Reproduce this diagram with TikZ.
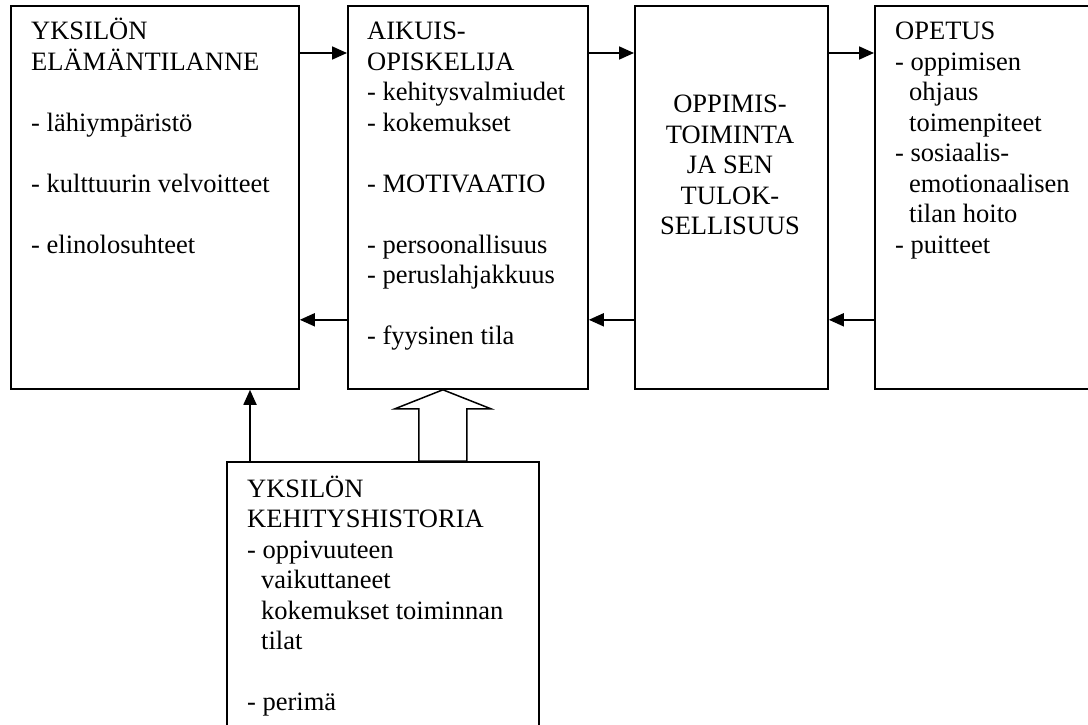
\documentclass[tikz,border=0pt]{standalone}
\usepackage{fontspec}
\setmainfont{Liberation Serif}
\usetikzlibrary{arrows.meta}
\begin{document}
\begin{tikzpicture}[x=1pt,y=-1pt,
  box/.style={draw,line width=1.8pt,rectangle,inner sep=0pt,anchor=north west},
  txt/.style={inner sep=0pt,font=\fontsize{26.5}{30.5}\selectfont},
  conn/.style={line width=1.8pt,-{Triangle[length=15pt,width=13pt]}},
  hollow/.style={draw,line width=1.5pt,fill=white,line join=miter}]
\useasboundingbox (0,0) rectangle (1088,725);
\clip (0,0) rectangle (1088,725);
% boxes
\node[box,minimum width=288pt,minimum height=383pt] (b1) at (10,5) {};
\node[box,minimum width=240pt,minimum height=383pt] (b2) at (347,5) {};
\node[box,minimum width=193pt,minimum height=383pt] (b3) at (634,5) {};
\node[box,minimum width=236pt,minimum height=383pt] (b4) at (874,5) {};
\node[box,minimum width=312pt,minimum height=284pt] (bh) at (226,461) {};
% texts
\node[txt,anchor=base west] (t1) at (31,40) {\begin{tabular}[t]{@{}l@{}}
YKSILÖN\\ ELÄMÄNTILANNE\\ \\ - lähiympäristö\\ \\ - kulttuurin velvoitteet\\ \\ - elinolosuhteet
\end{tabular}};
\node[txt,anchor=base west] (t2) at (367,40) {\begin{tabular}[t]{@{}l@{}}
AIKUIS-\\ OPISKELIJA\\ - kehitysvalmiudet\\ - kokemukset\\ \\ - MOTIVAATIO\\ \\ - persoonallisuus\\ - peruslahjakkuus\\ \\ - fyysinen tila
\end{tabular}};
\node[txt,anchor=base] (t3) at (730,113) {\begin{tabular}[t]{@{}c@{}}
OPPIMIS-\\ TOIMINTA\\ JA SEN\\ TULOK-\\ SELLISUUS
\end{tabular}};
\node[txt,anchor=base west] (t4) at (895,40) {\begin{tabular}[t]{@{}l@{}}
OPETUS\\ - oppimisen\\ \hspace*{14pt}ohjaus\\ \hspace*{14pt}toimenpiteet\\ - sosiaalis-\\ \hspace*{14pt}emotionaalisen\\ \hspace*{14pt}tilan hoito\\ - puitteet
\end{tabular}};
\node[txt,anchor=base west] (t5) at (247,497) {\begin{tabular}[t]{@{}l@{}}
YKSILÖN\\ KEHITYSHISTORIA\\ - oppivuuteen\\ \hspace*{14pt}vaikuttaneet\\ \hspace*{14pt}kokemukset toiminnan\\ \hspace*{14pt}tilat\\ \\ - perimä
\end{tabular}};
% forward arrows
\draw[conn] ([yshift=-48pt]b1.north east) -- ([yshift=-48pt]b2.north west);
\draw[conn] ([yshift=-48pt]b2.north east) -- ([yshift=-48pt]b3.north west);
\draw[conn] ([yshift=-48pt]b3.north east) -- ([yshift=-48pt]b4.north west);
% backward arrows
\draw[conn] ([yshift=70pt]b2.south west) -- ([yshift=70pt]b1.south east);
\draw[conn] ([yshift=70pt]b3.south west) -- ([yshift=70pt]b2.south east);
\draw[conn] ([yshift=70pt]b4.south west) -- ([yshift=70pt]b3.south east);
% vertical arrow
\draw[conn] ([xshift=24pt]bh.north west) -- ([xshift=24pt]bh.north west |- b1.south);
% hollow arrow
\coordinate (tip) at ([xshift=-25pt]b2.south);
\path[hollow] (tip) -- ++(48,19) -- ++(-24,0) -- ([xshift=24pt]tip |- bh.north)
  -- ([xshift=-24pt]tip |- bh.north) -- ([xshift=-24pt,yshift=-19pt]tip) -- ++(-24,0) -- cycle;
\end{tikzpicture}
\end{document}
